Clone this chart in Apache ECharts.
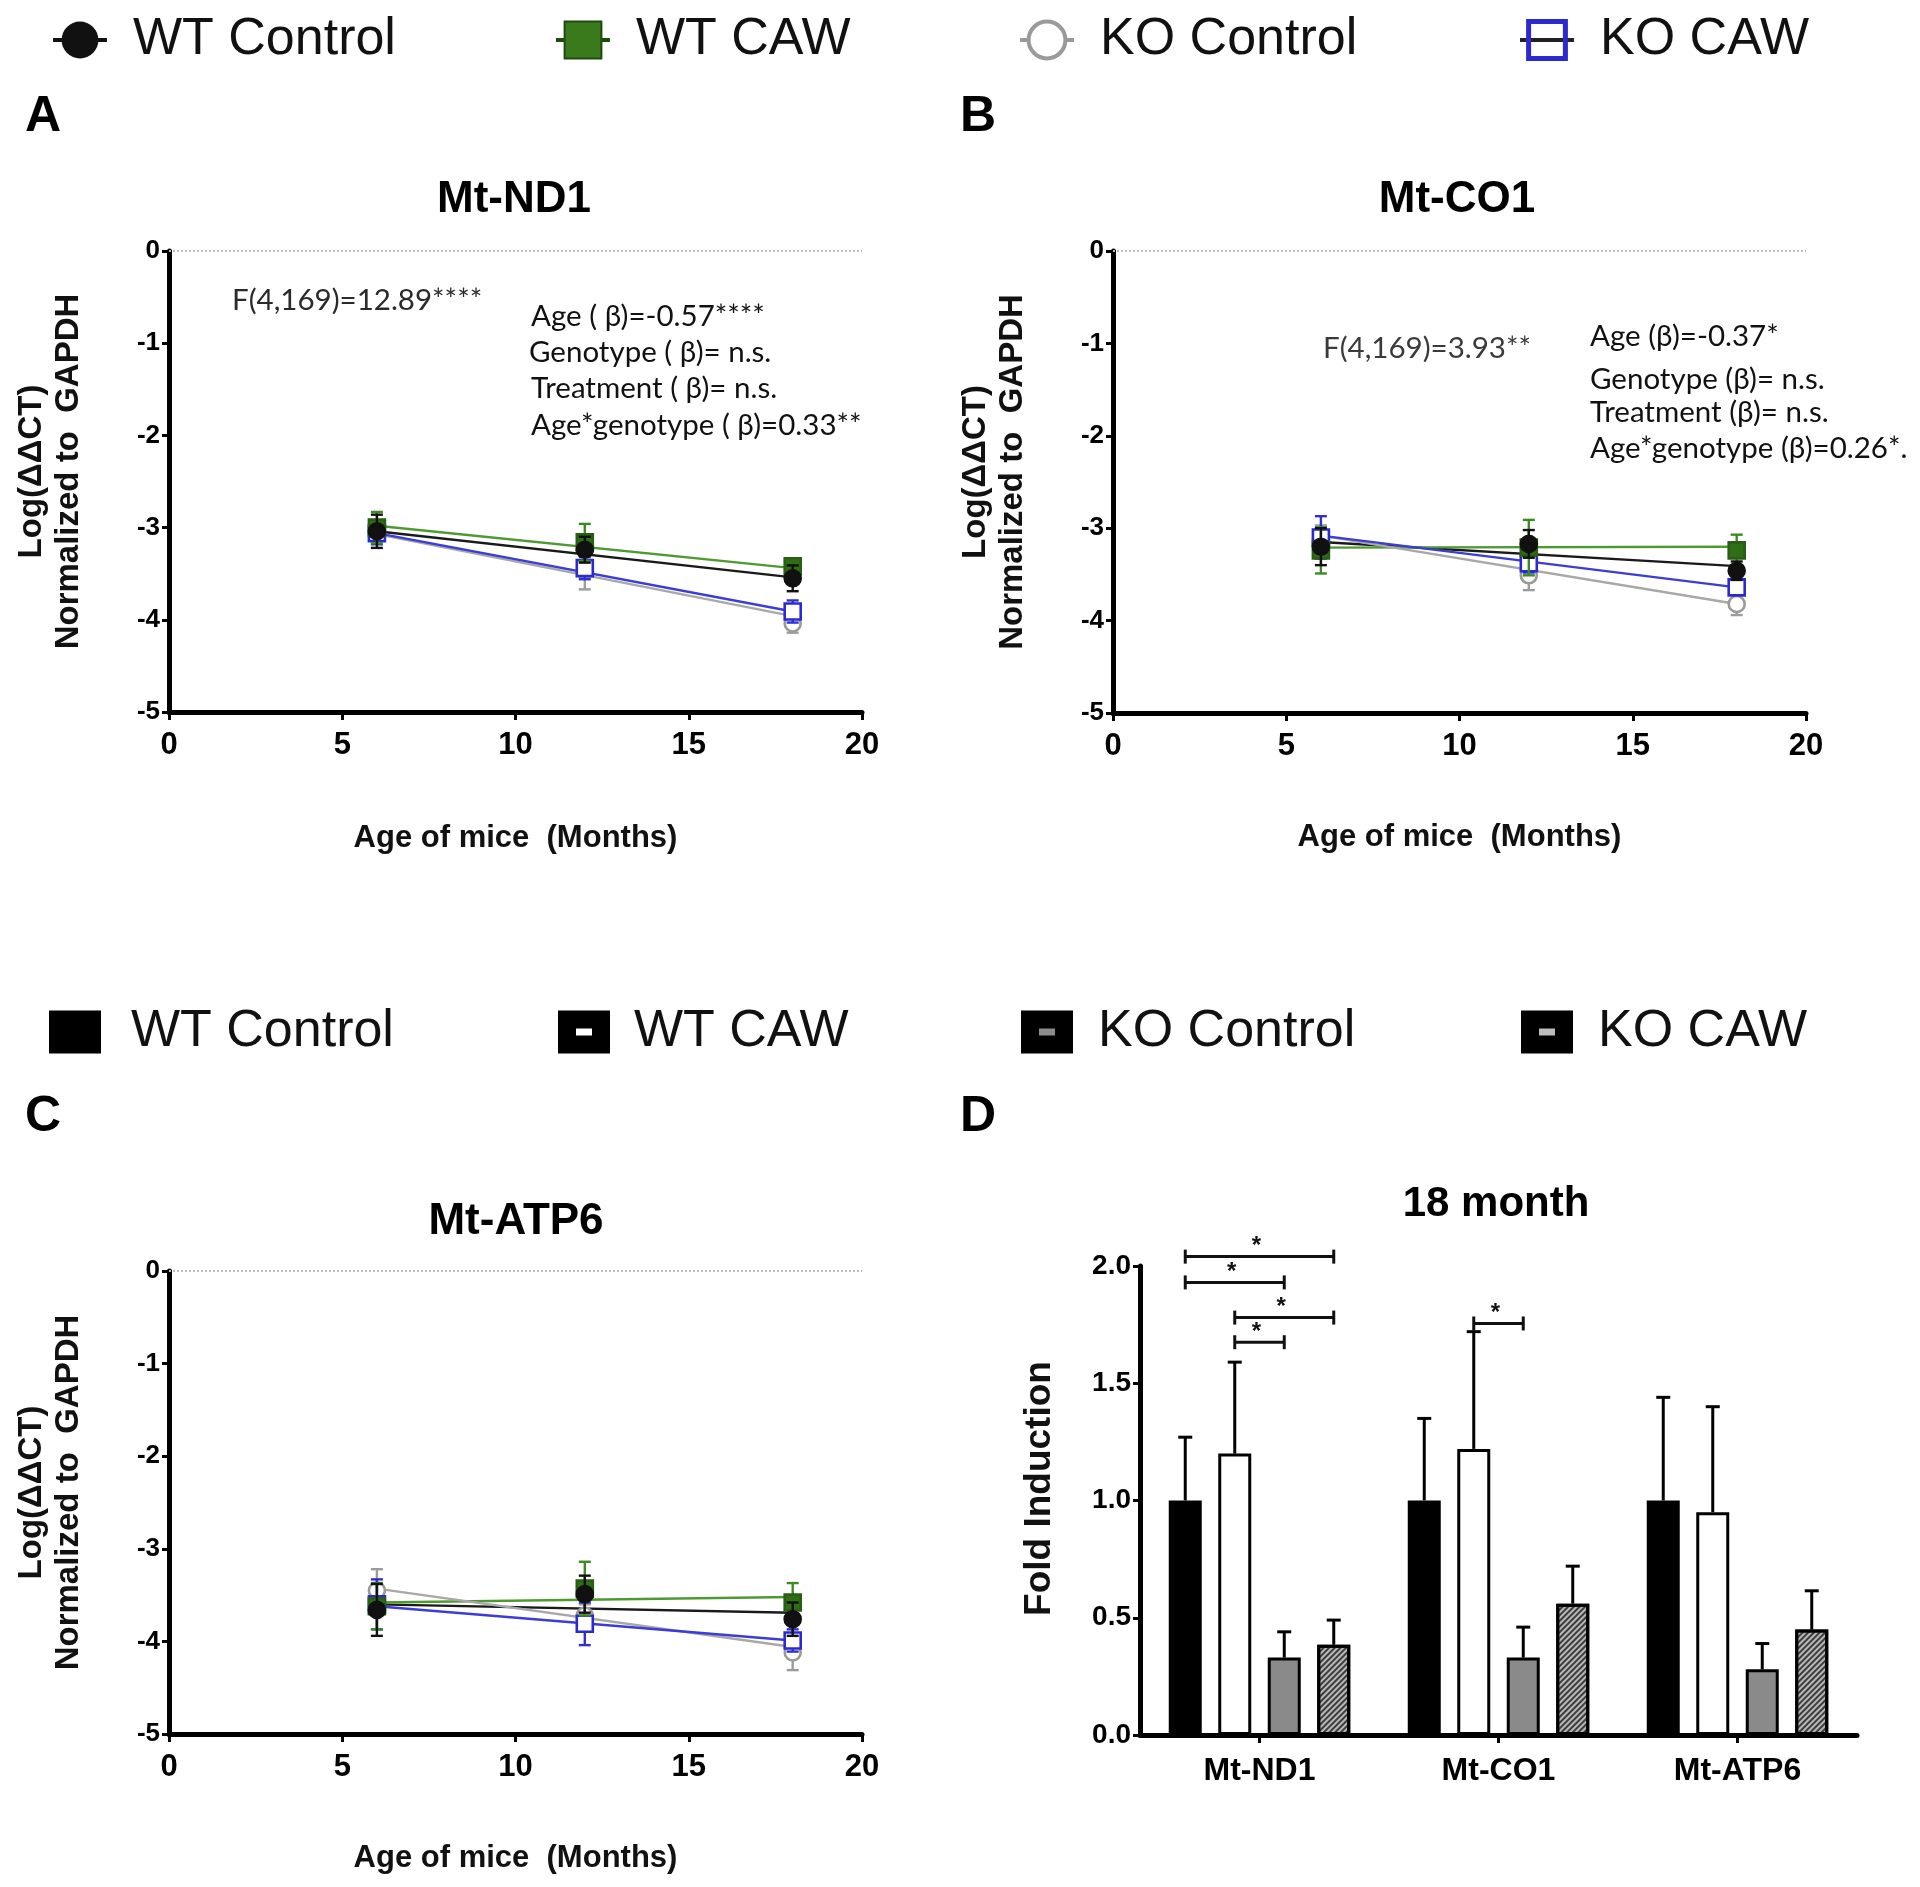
<!DOCTYPE html>
<html><head><meta charset="utf-8">
<script src="https://cdn.jsdelivr.net/npm/echarts@6/dist/echarts.min.js"></script>
<style>html,body{margin:0;padding:0;background:#fff}#c{width:1920px;height:1887px}</style>
</head><body><div id="c"></div>
<script>
// ---------------- DATA ----------------
const GROUPS = ['WT Control', 'WT CAW', 'KO Control', 'KO CAW'];
const AGES = [6, 12, 18];
const FIT_AGES = [6, 18];
const X_TICKS = [0, 5, 10, 15, 20];
const Y_TICKS = [-5, -4, -3, -2, -1, 0];

// Panel A: Mt-ND1 (rows follow GROUPS, columns follow AGES)
const nd1Mean = [[-3.04, -3.24, -3.55], [-3.00, -3.16, -3.42], [-3.06, -3.47, -4.04], [-3.06, -3.44, -3.91]];
const nd1Sem  = [[0.18, 0.14, 0.14], [0.17, 0.20, 0.08], [0.12, 0.20, 0.10], [0.12, 0.12, 0.12]];
const nd1Fit  = [[-3.04, -3.54], [-2.98, -3.44], [-3.07, -3.96], [-3.06, -3.91]];
// Panel B: Mt-CO1
const co1Mean = [[-3.20, -3.17, -3.46], [-3.24, -3.21, -3.24], [-3.12, -3.51, -3.82], [-3.10, -3.38, -3.64]];
const co1Sem  = [[0.20, 0.15, 0.10], [0.25, 0.30, 0.17], [0.15, 0.16, 0.12], [0.23, 0.10, 0.08]];
const co1Fit  = [[-3.15, -3.41], [-3.21, -3.20], [-3.08, -3.82], [-3.08, -3.64]];
// Panel C: Mt-ATP6
const atp6Mean = [[-3.66, -3.49, -3.76], [-3.62, -3.43, -3.58], [-3.45, -3.72, -4.12], [-3.60, -3.81, -3.99]];
const atp6Sem  = [[0.28, 0.20, 0.18], [0.25, 0.29, 0.21], [0.23, 0.12, 0.19], [0.27, 0.23, 0.12]];
const atp6Fit  = [[-3.60, -3.69], [-3.58, -3.52], [-3.43, -4.06], [-3.62, -3.99]];

// Panel D: 18 month fold induction
const barCategories = ['Mt-ND1', 'Mt-CO1', 'Mt-ATP6'];
const barWTControl = [1.00, 1.00, 1.00];
const barWTCAW     = [1.20, 1.22, 0.95];
const barKOControl = [0.33, 0.33, 0.28];
const barKOCAW     = [0.385, 0.56, 0.45];
const semWTControl = [0.27, 0.35, 0.44];
const semWTCAW     = [0.39, 0.50, 0.45];
const semKOControl = [0.11, 0.13, 0.11];
const semKOCAW     = [0.105, 0.16, 0.165];
const D_TICKS = [0, 0.5, 1.0, 1.5, 2.0];
// significance brackets: [category index, from group, to group, height]
const brackets = [[0, 0, 3, 2.04], [0, 0, 2, 1.93], [0, 1, 3, 1.78], [0, 1, 2, 1.675], [1, 1, 2, 1.755]];

const panelTitles = ['Mt-ND1', 'Mt-CO1', 'Mt-ATP6', '18 month'];
const annotA = ['F(4,169)=12.89****', 'Age ( \u03B2)=-0.57****', 'Genotype ( \u03B2)= n.s.', 'Treatment ( \u03B2)= n.s.', 'Age*genotype ( \u03B2)=0.33**'];
const annotB = ['F(4,169)=3.93**', 'Age (\u03B2)=-0.37*', 'Genotype (\u03B2)= n.s.', 'Treatment (\u03B2)= n.s.', 'Age*genotype (\u03B2)=0.26*.'];

// ---------------- STYLE ----------------
const SANS = 'Liberation Sans';
const CAL = 'Lato';
const lineColor   = ['#1a1a1a', '#4f9a30', '#a8a8a8', '#3c3cd6'];
const errColor    = ['#111111', '#3d8a22', '#9c9c9c', '#3030cc'];
const symbolList  = ['circle', 'rect', 'circle', 'rect'];
const fillColor   = ['#111111', '#2f6e17', '#ffffff', '#ffffff'];
const borderColor = ['#111111', '#2a5e14', '#9a9a9a', '#2a2ad0'];
const drawOrder = [2, 3, 1, 0];

const grids = [
  {left: 169, top: 251, width: 693, height: 461},
  {left: 1113, top: 251, width: 693, height: 462},
  {left: 169, top: 1271, width: 693, height: 463},
  {left: 1140, top: 1266, width: 717, height: 469}
].map(g => Object.assign({outerBoundsMode: 'none', containLabel: false}, g));
const xNameGap = [111, 109, 109];

const axisLineStyle = {color: '#000', width: 5};
const tickStyle = {color: '#000', width: 3};

function lineXAxis(i) {
  return {
    gridIndex: i, type: 'value', min: X_TICKS[0], max: X_TICKS[X_TICKS.length - 1], interval: 5,
    axisLine: {show: true, onZero: false, lineStyle: axisLineStyle},
    axisTick: {show: true, length: 8, lineStyle: tickStyle},
    splitLine: {show: false},
    axisLabel: {color: '#000', fontSize: 31, fontWeight: 'bold', fontFamily: SANS, margin: 18},
    name: 'Age of mice  (Months)', nameLocation: 'middle', nameGap: xNameGap[i],
    nameTextStyle: {color: '#111', fontSize: 31, fontWeight: 'bold', fontFamily: SANS}
  };
}
function lineYAxis(i) {
  return {
    gridIndex: i, type: 'value', min: Y_TICKS[0], max: Y_TICKS[Y_TICKS.length - 1], interval: 1,
    axisLine: {show: true, onZero: false, lineStyle: axisLineStyle},
    axisTick: {show: true, length: 7, lineStyle: tickStyle},
    splitLine: {show: false},
    axisLabel: {color: '#000', fontSize: 26, fontWeight: 'bold', fontFamily: SANS, margin: 9},
    name: 'Log(\u0394\u0394CT)\nNormalized to  GAPDH', nameLocation: 'middle', nameGap: 82,
    nameTextStyle: {color: '#111', fontSize: 33, fontWeight: 'bold', fontFamily: SANS, lineHeight: 37, padding: [0, 0, 0, 20]}
  };
}

const series = [];
const panels = [[nd1Mean, nd1Sem, nd1Fit], [co1Mean, co1Sem, co1Fit], [atp6Mean, atp6Sem, atp6Fit]];

// fit lines first (named, used by the top legend)
panels.forEach((p, pi) => {
  const fit = p[2];
  GROUPS.forEach((name, g) => {
    const s = {
      type: 'line', name: name, xAxisIndex: pi, yAxisIndex: pi, silent: true,
      data: FIT_AGES.map((a, k) => [a, fit[g][k]]),
      symbol: symbolList[g], showSymbol: false,
      lineStyle: {color: lineColor[g], width: 2.4},
      itemStyle: {color: fillColor[g], borderColor: borderColor[g]},
      z: 2
    };
    if (g === 0) {
      s.markLine = {silent: true, symbol: 'none', label: {show: false},
        lineStyle: {type: 'dotted', color: '#bdbdbd', width: 2},
        data: [{yAxis: 0}], animation: false};
    }
    series.push(s);
  });
});

// error bars + mean markers
panels.forEach((p, pi) => {
  const mean = p[0], sem = p[1];
  drawOrder.forEach((g, oi) => {
    series.push({
      type: 'custom', name: GROUPS[g] + ' SEM', xAxisIndex: pi, yAxisIndex: pi, silent: true,
      data: AGES.map((a, k) => [a, mean[g][k] - sem[g][k], mean[g][k] + sem[g][k]]),
      encode: {x: 0, y: [1, 2]},
      renderItem: function (params, api) {
        const lo = api.coord([api.value(0), api.value(1)]);
        const hi = api.coord([api.value(0), api.value(2)]);
        const hw = 6;
        const st = {stroke: errColor[g], lineWidth: 2.4};
        return {type: 'group', children: [
          {type: 'line', shape: {x1: lo[0], y1: lo[1], x2: hi[0], y2: hi[1]}, style: st},
          {type: 'line', shape: {x1: lo[0] - hw, y1: lo[1], x2: lo[0] + hw, y2: lo[1]}, style: st},
          {type: 'line', shape: {x1: hi[0] - hw, y1: hi[1], x2: hi[0] + hw, y2: hi[1]}, style: st}
        ]};
      },
      z: 3 + oi
    });
    series.push({
      type: 'scatter', name: GROUPS[g] + ' mean', xAxisIndex: pi, yAxisIndex: pi, silent: true,
      data: AGES.map((a, k) => [a, mean[g][k]]),
      symbol: symbolList[g], symbolSize: 16,
      itemStyle: {color: fillColor[g], borderColor: borderColor[g], borderWidth: 2.6, opacity: 1},
      z: 3 + oi
    });
  });
});

// Panel D bars
const BAR_W = 33, BAR_GAP = 0.5;
const barVals = [barWTControl, barWTCAW, barKOControl, barKOCAW];
const barSems = [semWTControl, semWTCAW, semKOControl, semKOCAW];
const barFill = ['#000000', '#ffffff', '#8a8a8a', '#b8b8b8'];
function barOffset(g) { return (g - 1.5) * BAR_W * (1 + BAR_GAP); }

GROUPS.forEach((name, g) => {
  const s = {
    type: 'bar', name: name, xAxisIndex: 3, yAxisIndex: 3, silent: true,
    data: barVals[g], barWidth: BAR_W, barGap: (BAR_GAP * 100) + '%',
    itemStyle: {color: barFill[g], borderColor: '#000', borderWidth: 3},
    z: 2
  };
  if (g === 3) {
    s.itemStyle.decal = {symbol: 'rect', symbolSize: 1, dashArrayX: [1, 0], dashArrayY: [2, 2],
      rotation: -Math.PI / 4, color: 'rgba(30,30,30,0.8)'};
  }
  series.push(s);
});
GROUPS.forEach((name, g) => {
  series.push({
    type: 'custom', name: name + ' bar SEM', xAxisIndex: 3, yAxisIndex: 3, silent: true,
    data: barCategories.map((c, k) => [k, barVals[g][k], barVals[g][k] + barSems[g][k]]),
    encode: {x: 0, y: [1, 2]},
    renderItem: function (params, api) {
      const b = api.coord([api.value(0), api.value(1)]);
      const t = api.coord([api.value(0), api.value(2)]);
      const x = b[0] + barOffset(g);
      const st = {stroke: '#000', lineWidth: 3};
      return {type: 'group', children: [
        {type: 'line', shape: {x1: x, y1: b[1], x2: x, y2: t[1]}, style: st},
        {type: 'line', shape: {x1: x - 7, y1: t[1], x2: x + 7, y2: t[1]}, style: st}
      ]};
    },
    z: 1
  });
});
series.push({
  type: 'custom', name: 'significance', xAxisIndex: 3, yAxisIndex: 3, silent: true, clip: false,
  data: brackets,
  encode: {x: 0, y: 3},
  renderItem: function (params, api) {
    const c = api.coord([api.value(0), api.value(3)]);
    const x1 = c[0] + barOffset(api.value(1));
    const x2 = c[0] + barOffset(api.value(2));
    const y = c[1];
    const st = {stroke: '#111', lineWidth: 3};
    return {type: 'group', children: [
      {type: 'line', shape: {x1: x1, y1: y, x2: x2, y2: y}, style: st},
      {type: 'line', shape: {x1: x1, y1: y - 7, x2: x1, y2: y + 7}, style: st},
      {type: 'line', shape: {x1: x2, y1: y - 7, x2: x2, y2: y + 7}, style: st},
      {type: 'text', x: (x1 + x2) / 2 - 3, y: y + 2, style: {text: '*', fill: '#111',
        font: 'bold 24px "Liberation Sans"', textAlign: 'center', textVerticalAlign: 'bottom',
        align: 'center', verticalAlign: 'bottom'}}
    ]};
  },
  z: 5
});

// ---------------- TEXT ----------------
function txt(x, y, text, size, weight, family, align, color) {
  return {type: 'text', x: x, y: y, silent: true, z: 10,
    style: {text: text, fill: color || '#000', font: weight + ' ' + size + 'px "' + family + '"',
      textAlign: align || 'center', textVerticalAlign: 'middle', align: align || 'center', verticalAlign: 'middle'}};
}
const graphic = [
  txt(43, 117, 'A', 50, 'bold', SANS), txt(978, 117, 'B', 50, 'bold', SANS),
  txt(43, 1117, 'C', 50, 'bold', SANS), txt(978, 1117, 'D', 50, 'bold', SANS),
  txt(514, 200, panelTitles[0], 44, 'bold', SANS), txt(1457, 200, panelTitles[1], 44, 'bold', SANS),
  txt(516, 1222, panelTitles[2], 44, 'bold', SANS), txt(1496, 1204, panelTitles[3], 42, 'bold', SANS)
];
const annAPos = [[232, 300], [531, 316], [529, 352], [531, 388], [531, 425]];
const annBPos = [[1323, 348], [1590, 336], [1590, 379], [1590, 412], [1590, 448]];
annotA.forEach((t, i) => graphic.push(txt(annAPos[i][0], annAPos[i][1], t, 29.5, 'normal', CAL, 'left', i === 0 ? '#2a2a2a' : '#111')));
annotB.forEach((t, i) => graphic.push(txt(annBPos[i][0], annBPos[i][1], t, 29.5, 'normal', CAL, 'left', i === 0 ? '#3a3a3a' : '#111')));

// ---------------- LEGENDS ----------------
const legendText = {fontSize: 52, fontFamily: SANS, color: '#111'};
const topLegendLeft = [51, 554, 1018, 1518];
const topLegendStyle = [
  {itemStyle: {color: '#111', borderColor: '#111', borderWidth: 0}, lineStyle: {color: '#111', width: 4}},
  {itemStyle: {color: '#3a7a1c', borderColor: '#1f4a0e', borderWidth: 2}, lineStyle: {color: '#1f4a0e', width: 4}},
  {itemStyle: {color: '#fff', borderColor: '#9a9a9a', borderWidth: 4}, lineStyle: {color: '#9a9a9a', width: 4}},
  {itemStyle: {color: 'rgba(255,255,255,0)', borderColor: '#2a2ad0', borderWidth: 5}, lineStyle: {color: '#222', width: 4}}
];
const barLegendLeft = [49, 558, 1021, 1521];
const barLegendPad = [34, 28, 29, 29];
const barLegendFill = ['#000', '#fff', '#8c8c8c', '#bdbdbd'];
const legends = [];
GROUPS.forEach((name, g) => {
  legends.push({
    top: 14, left: topLegendLeft[g], padding: 0, itemWidth: 54, itemHeight: 46, selectedMode: false,
    textStyle: Object.assign({padding: [0, 0, 0, 21]}, legendText),
    data: [Object.assign({name: name}, topLegendStyle[g])]
  });
  legends.push({
    top: 1006, left: barLegendLeft[g], padding: 0, itemWidth: 34, itemHeight: 25, selectedMode: false,
    textStyle: Object.assign({padding: [0, 0, 0, barLegendPad[g]]}, legendText),
    data: [{name: name, icon: 'rect', itemStyle: {color: barLegendFill[g], borderColor: '#000', borderWidth: 18}}]
  });
});

const option = {
  animation: false,
  backgroundColor: '#fff',
  textStyle: {fontFamily: SANS},
  grid: grids,
  legend: legends,
  xAxis: [lineXAxis(0), lineXAxis(1), lineXAxis(2), {
    gridIndex: 3, type: 'category', data: barCategories,
    axisLine: {show: true, onZero: false, lineStyle: axisLineStyle},
    axisTick: {show: true, alignWithLabel: true, length: 8, lineStyle: tickStyle},
    axisLabel: {color: '#000', fontSize: 32, fontWeight: 'bold', fontFamily: SANS, margin: 20},
    splitLine: {show: false}
  }],
  yAxis: [lineYAxis(0), lineYAxis(1), lineYAxis(2), {
    gridIndex: 3, type: 'value', min: D_TICKS[0], max: D_TICKS[D_TICKS.length - 1], interval: 0.5,
    axisLine: {show: true, onZero: false, lineStyle: axisLineStyle},
    axisTick: {show: true, length: 7, lineStyle: tickStyle},
    splitLine: {show: false},
    axisLabel: {color: '#000', fontSize: 28, fontWeight: 'bold', fontFamily: SANS, margin: 9,
      formatter: v => v.toFixed(1)},
    name: 'Fold Induction', nameLocation: 'middle', nameGap: 82,
    nameTextStyle: {color: '#111', fontSize: 37, fontWeight: 'bold', fontFamily: SANS, padding: [0, 0, 0, 24]}
  }],
  graphic: graphic,
  series: series
};

const chart = echarts.init(document.getElementById('c'), null, {renderer: 'canvas'});
chart.setOption(option);
</script>
</body></html>
